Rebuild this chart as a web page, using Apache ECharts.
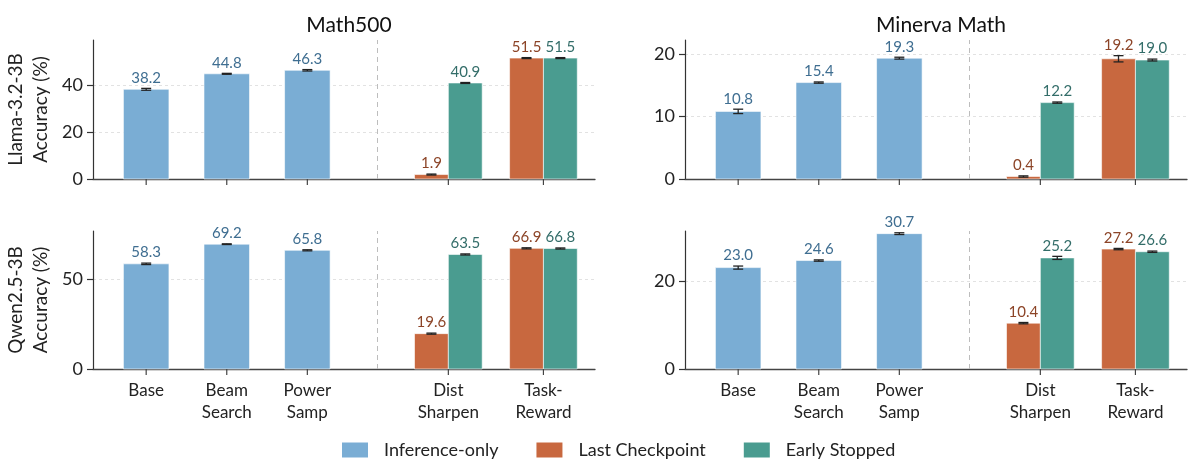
<!DOCTYPE html>
<html>
<head>
<meta charset="utf-8">
<script src="https://cdn.jsdelivr.net/npm/echarts@6/dist/echarts.min.js"></script>
<style>
  html, body { margin: 0; padding: 0; background: #fff; }
  #chart { width: 1200px; height: 462px; }
</style>
</head>
<body>
<div id="chart"></div>
<script>
/* 数据 */
var categories = ['Base', 'Beam\nSearch', 'Power\nSamp', 'Dist\nSharpen', 'Task-\nReward'];
var benchmarks = ['Math500', 'Minerva Math'];
var models = ['Llama-3.2-3B', 'Qwen2.5-3B'];
var seriesNames = ['Inference-only', 'Last Checkpoint', 'Early Stopped'];

// Llama / Math500
var llamaMathInf = [38.2, 44.8, 46.3];
var llamaMathInfErr = [0.4, 0.2, 0.3];
var llamaMathLast = [1.9, 51.5];
var llamaMathLastErr = [0.2, 0.2];
var llamaMathEarly = [40.9, 51.5];
var llamaMathEarlyErr = [0.2, 0.2];

// Llama / Minerva Math
var llamaMinInf = [10.8, 15.4, 19.3];
var llamaMinInfErr = [0.35, 0.1, 0.15];
var llamaMinLast = [0.4, 19.2];
var llamaMinLastErr = [0.1, 0.5];
var llamaMinEarly = [12.2, 19.0];
var llamaMinEarlyErr = [0.1, 0.15];

// Qwen / Math500
var qwenMathInf = [58.3, 69.2, 65.8];
var qwenMathInfErr = [0.4, 0.2, 0.3];
var qwenMathLast = [19.6, 66.9];
var qwenMathLastErr = [0.3, 0.3];
var qwenMathEarly = [63.5, 66.8];
var qwenMathEarlyErr = [0.3, 0.3];

// Qwen / Minerva Math
var qwenMinInf = [23.0, 24.6, 30.7];
var qwenMinInfErr = [0.35, 0.15, 0.2];
var qwenMinLast = [10.4, 27.2];
var qwenMinLastErr = [0.15, 0.15];
var qwenMinEarly = [25.2, 26.6];
var qwenMinEarlyErr = [0.35, 0.15];

// 坐标轴刻度
var yTicks = [[0, 20, 40], [0, 10, 20], [0, 50], [0, 20]];
var yMax = [59.2, 22.2, 76.5, 31.3];

/* 布局 */
var catPos = [0, 1, 2, 3.75, 4.93];   // 类别在x轴上的位置（中间留空）
var sepPos = 2.87;                     // 虚线分隔位置
var xMin = -0.66, xMax = 5.57;
var gridLeft = [93, 685];
var gridTop = [40, 231];
var gridH = [139, 138];
var gridW = 502;

var colors = ['#7aadd4', '#c8683f', '#4a9c90'];
var labelColors = ['#3f6e91', '#8c4427', '#336d69'];
var FONT = 'Lato';

var panels = [
  [llamaMathInf, llamaMathInfErr, llamaMathLast, llamaMathLastErr, llamaMathEarly, llamaMathEarlyErr],
  [llamaMinInf, llamaMinInfErr, llamaMinLast, llamaMinLastErr, llamaMinEarly, llamaMinEarlyErr],
  [qwenMathInf, qwenMathInfErr, qwenMathLast, qwenMathLastErr, qwenMathEarly, qwenMathEarlyErr],
  [qwenMinInf, qwenMinInfErr, qwenMinLast, qwenMinLastErr, qwenMinEarly, qwenMinEarlyErr]
];

// 柱子 + 误差线 + 数值标签
function barRenderer(k, width, shift) {
  return function (params, api) {
    var x = api.value(0) + shift;
    var v = api.value(1), e = api.value(2);
    var p0 = api.coord([x - width / 2, 0]);
    var p1 = api.coord([x + width / 2, v]);
    var top = api.coord([x, v + e]);
    var bot = api.coord([x, v - e]);
    var cap = 5;
    return {
      type: 'group',
      children: [
        { type: 'rect', shape: { x: p0[0], y: p1[1], width: p1[0] - p0[0], height: p0[1] - p1[1] },
          style: { fill: colors[k], stroke: '#ffffff', lineWidth: 0.6 } },
        { type: 'line', shape: { x1: top[0], y1: top[1], x2: bot[0], y2: bot[1] },
          style: { stroke: '#222', lineWidth: 1.3 } },
        { type: 'line', shape: { x1: top[0] - cap, y1: top[1], x2: top[0] + cap, y2: top[1] },
          style: { stroke: '#222', lineWidth: 1.3 } },
        { type: 'line', shape: { x1: bot[0] - cap, y1: bot[1], x2: bot[0] + cap, y2: bot[1] },
          style: { stroke: '#222', lineWidth: 1.3 } },
        { type: 'text', x: top[0], y: top[1] - 3,
          style: { text: v.toFixed(1), fill: labelColors[k], fontSize: 15, fontFamily: FONT,
                   align: 'center', verticalAlign: 'bottom' } }
      ]
    };
  };
}

// x轴刻度与标签
function tickRenderer(showLabel) {
  return function (params, api) {
    var p = api.coord([api.value(0), 0]);
    var children = [
      { type: 'line', shape: { x1: p[0], y1: p[1], x2: p[0], y2: p[1] + 6 },
        style: { stroke: '#444', lineWidth: 1.2 } }
    ];
    if (showLabel) {
      children.push({ type: 'text', x: p[0], y: p[1] + 11,
        style: { text: categories[params.dataIndex], fill: '#222', fontSize: 17, fontFamily: FONT,
                 align: 'center', verticalAlign: 'top', lineHeight: 22 } });
    }
    return { type: 'group', children: children };
  };
}

var grids = [], xAxes = [], yAxes = [], series = [];
for (var i = 0; i < 4; i++) {
  var row = Math.floor(i / 2), col = i % 2;
  grids.push({ left: gridLeft[col], top: gridTop[row], width: gridW, height: gridH[row] });
  xAxes.push({
    type: 'value', gridIndex: i, min: xMin, max: xMax,
    axisLine: { show: true, onZero: false, lineStyle: { color: '#444', width: 1.3 } },
    axisTick: { show: false }, axisLabel: { show: false }, splitLine: { show: false }
  });
  yAxes.push({
    type: 'value', gridIndex: i, min: 0, max: yMax[i],
    name: col === 0 ? models[row] + '\nAccuracy (%)' : '',
    nameLocation: 'middle', nameRotate: 90, nameGap: 40,
    nameTextStyle: { fontSize: 19, fontFamily: FONT, color: '#222', lineHeight: 25 },
    axisLine: { show: true, onZero: false, lineStyle: { color: '#333', width: 1.2 } },
    axisTick: { show: true, length: 6, customValues: yTicks[i], lineStyle: { color: '#333', width: 1.2 } },
    axisLabel: { fontSize: 18, fontFamily: FONT, color: '#222', margin: 10, customValues: yTicks[i] },
    splitLine: { show: true, lineStyle: { color: '#e2e2e2', type: [3, 3], width: 1 } }
  });

  var d = panels[i];
  series.push({
    type: 'custom', name: seriesNames[0], xAxisIndex: i, yAxisIndex: i,
    itemStyle: { color: colors[0] },
    renderItem: barRenderer(0, 0.565, 0),
    data: d[0].map(function (v, j) { return [catPos[j], v, d[1][j]]; })
  });
  series.push({
    type: 'custom', name: seriesNames[1], xAxisIndex: i, yAxisIndex: i,
    itemStyle: { color: colors[1] },
    renderItem: barRenderer(1, 0.42, -0.21),
    data: d[2].map(function (v, j) { return [catPos[j + 3], v, d[3][j]]; })
  });
  series.push({
    type: 'custom', name: seriesNames[2], xAxisIndex: i, yAxisIndex: i,
    itemStyle: { color: colors[2] },
    renderItem: barRenderer(2, 0.42, 0.21),
    data: d[4].map(function (v, j) { return [catPos[j + 3], v, d[5][j]]; })
  });
  series.push({
    type: 'custom', name: 'ticks', xAxisIndex: i, yAxisIndex: i, silent: true,
    renderItem: tickRenderer(row === 1),
    data: catPos.map(function (p) { return [p, 0]; }),
    markLine: {
      silent: true, symbol: 'none', label: { show: false },
      lineStyle: { color: '#bdbdbd', type: [5, 4], width: 1 },
      data: [{ xAxis: sepPos }]
    }
  });
}

var chart = echarts.init(document.getElementById('chart'));
chart.setOption({
  animation: false,
  textStyle: { fontFamily: FONT },
  title: [
    { text: benchmarks[0], left: gridLeft[0] + gridW / 2, top: 10, textAlign: 'center',
      textStyle: { fontSize: 21, fontWeight: 'normal', fontFamily: FONT, color: '#111' } },
    { text: benchmarks[1], left: gridLeft[1] + gridW / 2, top: 10, textAlign: 'center',
      textStyle: { fontSize: 21, fontWeight: 'normal', fontFamily: FONT, color: '#111' } }
  ],
  legend: {
    data: seriesNames, left: 337, top: 436, icon: 'rect',
    itemWidth: 26, itemHeight: 15, itemGap: 38,
    textStyle: { fontSize: 18, fontFamily: FONT, color: '#222', padding: [0, 0, 0, 11] }
  },
  grid: grids,
  xAxis: xAxes,
  yAxis: yAxes,
  series: series
});
</script>
</body>
</html>
